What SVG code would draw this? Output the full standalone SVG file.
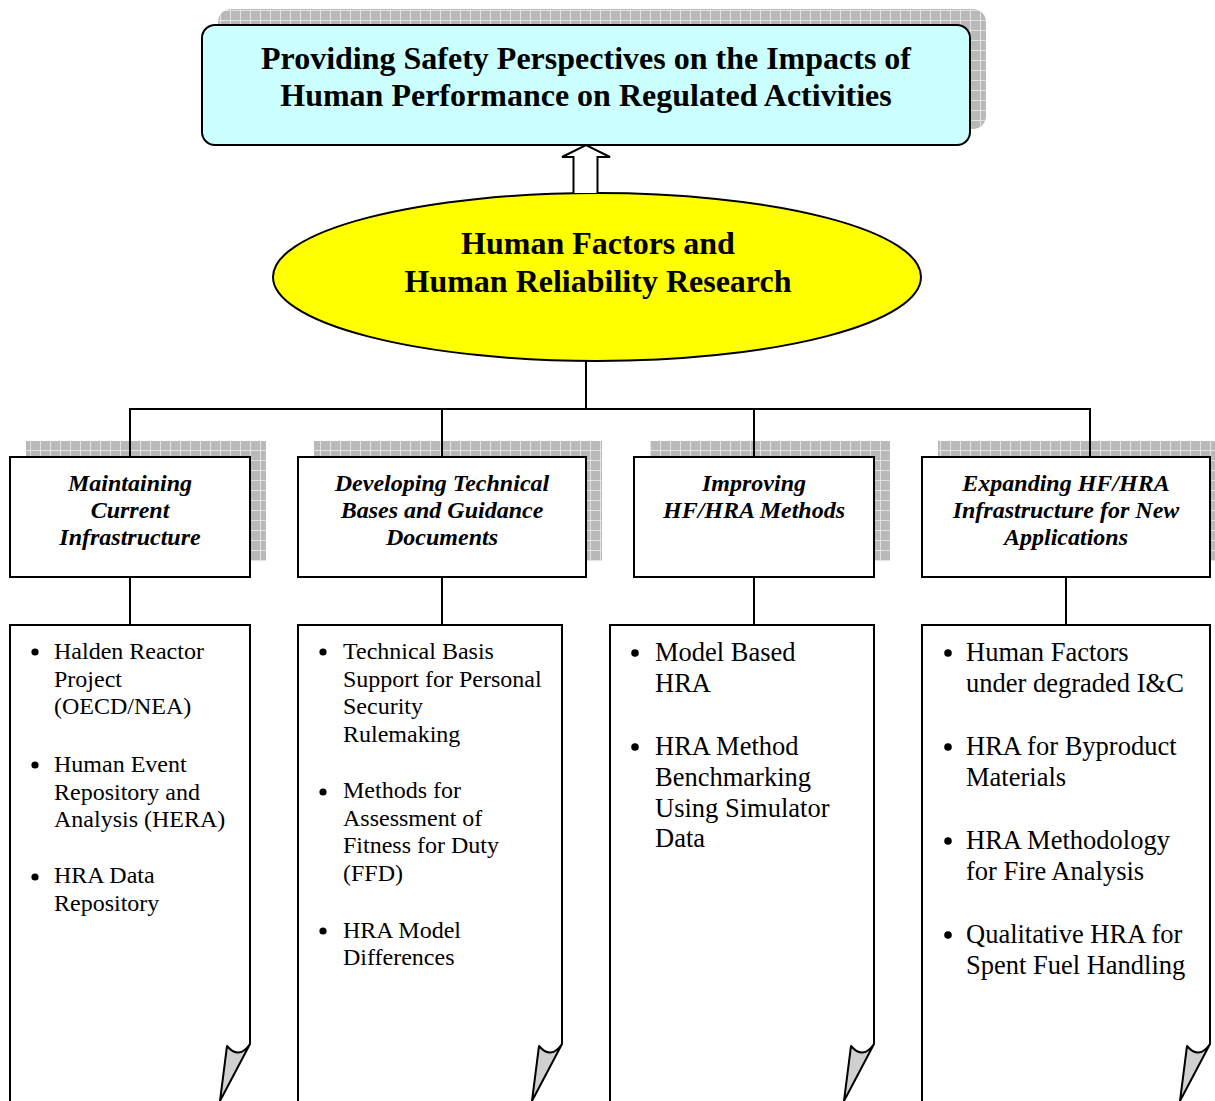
<svg xmlns="http://www.w3.org/2000/svg" width="1215" height="1101" viewBox="0 0 1215 1101">
  <defs>
    <!-- hatched drop-shadow fill -->
    <pattern id="grid" width="10" height="10" patternUnits="userSpaceOnUse">
      <rect width="10" height="10" fill="#b9b9b9"/>
      <path d="M0,0.5H10M0.5,0V10" stroke="#e2e2e2" stroke-width="1"/>
    </pattern>
  </defs>
  <style>
    .shadow { fill: url(#grid); stroke: none; }
    .box { fill: #ffffff; stroke: #000000; stroke-width: 2; }
    .line { fill: none; stroke: #000000; stroke-width: 2; }
    .fold { fill: #d0d0d0; stroke: #000000; stroke-width: 2; stroke-linejoin: round; }
    .title { font-family: "Liberation Serif", "Times New Roman", serif; font-weight: bold; font-size: 32px; text-anchor: middle; fill: #000; }
    .head { font-family: "Liberation Serif", "Times New Roman", serif; font-weight: bold; font-style: italic; font-size: 24px; text-anchor: middle; fill: #000; }
    .item { font-family: "Liberation Serif", "Times New Roman", serif; font-size: 24px; fill: #000; }
    .item-lg { font-family: "Liberation Serif", "Times New Roman", serif; font-size: 26.5px; fill: #000; }
  </style>

  <rect width="1215" height="1101" fill="#ffffff"/>

  <!-- goal box -->
  <g id="goal">
    <rect class="shadow" x="218" y="9" width="768" height="120" rx="13"/>
    <rect x="202" y="25" width="768" height="120" rx="13" fill="#ccffff" stroke="#000" stroke-width="2"/>
    <text class="title" x="586" y="69">Providing Safety Perspectives on the Impacts of</text>
    <text class="title" x="586" y="106">Human Performance on Regulated Activities</text>
  </g>

  <!-- program ellipse -->
  <g id="program">
    <ellipse cx="597" cy="277" rx="324" ry="84" fill="#ffff00" stroke="#000" stroke-width="2"/>
    <text class="title" x="598" y="254">Human Factors and</text>
    <text class="title" x="598" y="292">Human Reliability Research</text>
  </g>

  <!-- area headers -->
  <g id="area-infrastructure">
    <rect class="shadow" x="26" y="441" width="240" height="120"/>
    <rect class="box" x="10" y="457" width="240" height="120"/>
    <text class="head" x="130" y="491">Maintaining</text>
    <text class="head" x="130" y="518">Current</text>
    <text class="head" x="130" y="545">Infrastructure</text>
  </g>
  <g id="area-guidance">
    <rect class="shadow" x="314" y="441" width="288" height="120"/>
    <rect class="box" x="298" y="457" width="288" height="120"/>
    <text class="head" x="442" y="491">Developing Technical</text>
    <text class="head" x="442" y="518">Bases and Guidance</text>
    <text class="head" x="442" y="545">Documents</text>
  </g>
  <g id="area-methods">
    <rect class="shadow" x="650" y="441" width="240" height="120"/>
    <rect class="box" x="634" y="457" width="240" height="120"/>
    <text class="head" x="754" y="491">Improving</text>
    <text class="head" x="754" y="518">HF/HRA Methods</text>
  </g>
  <g id="area-expanding">
    <rect class="shadow" x="938" y="441" width="288" height="120"/>
    <rect class="box" x="922" y="457" width="288" height="120"/>
    <text class="head" x="1066" y="491">Expanding HF/HRA</text>
    <text class="head" x="1066" y="518">Infrastructure for New</text>
    <text class="head" x="1066" y="545">Applications</text>
  </g>

  <!-- activity lists (page with curled corner) -->
  <g id="list-infrastructure">
    <path class="box" d="M10,1102 V625 H250 V1044"/>
    <path class="fold" d="M250,1044 Q239,1060 227,1046 L220,1101 Z"/>
    <circle cx="35" cy="652" r="3.6"/>
    <circle cx="35" cy="765" r="3.6"/>
    <circle cx="35" cy="877" r="3.6"/>
    <text class="item" x="54" y="659">Halden Reactor</text>
    <text class="item" x="54" y="687">Project</text>
    <text class="item" x="54" y="714">(OECD/NEA)</text>
    <text class="item" x="54" y="772">Human Event</text>
    <text class="item" x="54" y="800">Repository and</text>
    <text class="item" x="54" y="827">Analysis (HERA)</text>
    <text class="item" x="54" y="883">HRA Data</text>
    <text class="item" x="54" y="911">Repository</text>
  </g>
  <g id="list-guidance">
    <path class="box" d="M298,1102 V625 H562 V1044"/>
    <path class="fold" d="M562,1044 Q551,1060 539,1046 L532,1101 Z"/>
    <circle cx="323" cy="652" r="3.6"/>
    <circle cx="323" cy="792" r="3.6"/>
    <circle cx="323" cy="931" r="3.6"/>
    <text class="item" x="343" y="659">Technical Basis</text>
    <text class="item" x="343" y="687">Support for Personal</text>
    <text class="item" x="343" y="714">Security</text>
    <text class="item" x="343" y="742">Rulemaking</text>
    <text class="item" x="343" y="798">Methods for</text>
    <text class="item" x="343" y="826">Assessment of</text>
    <text class="item" x="343" y="853">Fitness for Duty</text>
    <text class="item" x="343" y="881">(FFD)</text>
    <text class="item" x="343" y="938">HRA Model</text>
    <text class="item" x="343" y="965">Differences</text>
  </g>
  <g id="list-methods">
    <path class="box" d="M610,1102 V625 H874 V1044"/>
    <path class="fold" d="M874,1044 Q863,1060 851,1046 L844,1101 Z"/>
    <circle cx="635" cy="653" r="3.8"/>
    <circle cx="635" cy="747" r="3.8"/>
    <text class="item-lg" x="655" y="661">Model Based</text>
    <text class="item-lg" x="655" y="692">HRA</text>
    <text class="item-lg" x="655" y="755">HRA Method</text>
    <text class="item-lg" x="655" y="786">Benchmarking</text>
    <text class="item-lg" x="655" y="817">Using Simulator</text>
    <text class="item-lg" x="655" y="847">Data</text>
  </g>
  <g id="list-expanding">
    <path class="box" d="M922,1102 V625 H1210 V1044"/>
    <path class="fold" d="M1210,1044 Q1199,1060 1187,1046 L1180,1101 Z"/>
    <circle cx="948" cy="653" r="3.8"/>
    <circle cx="948" cy="747" r="3.8"/>
    <circle cx="948" cy="841" r="3.8"/>
    <circle cx="948" cy="935" r="3.8"/>
    <text class="item-lg" x="966" y="661">Human Factors</text>
    <text class="item-lg" x="966" y="692">under degraded I&amp;C</text>
    <text class="item-lg" x="966" y="755">HRA for Byproduct</text>
    <text class="item-lg" x="966" y="786">Materials</text>
    <text class="item-lg" x="966" y="849">HRA Methodology</text>
    <text class="item-lg" x="966" y="880">for Fire Analysis</text>
    <text class="item-lg" x="966" y="943">Qualitative HRA for</text>
    <text class="item-lg" x="966" y="974">Spent Fuel Handling</text>
  </g>

  <!-- connectors -->
  <g id="connectors">
    <path d="M573.5,193 V157 H562 L586,145 L610,157 H597.5 V193" fill="#ffffff" stroke="#000" stroke-width="2" stroke-linejoin="miter"/>
    <path class="line" d="M586,361 V409"/>
    <path class="line" d="M129,409 H1091"/>
    <path class="line" d="M130,409 V457 M442,409 V457 M754,409 V457 M1090,409 V457"/>
    <path class="line" d="M130,577 V625 M442,577 V625 M754,577 V625 M1066,577 V625"/>
  </g>
</svg>
